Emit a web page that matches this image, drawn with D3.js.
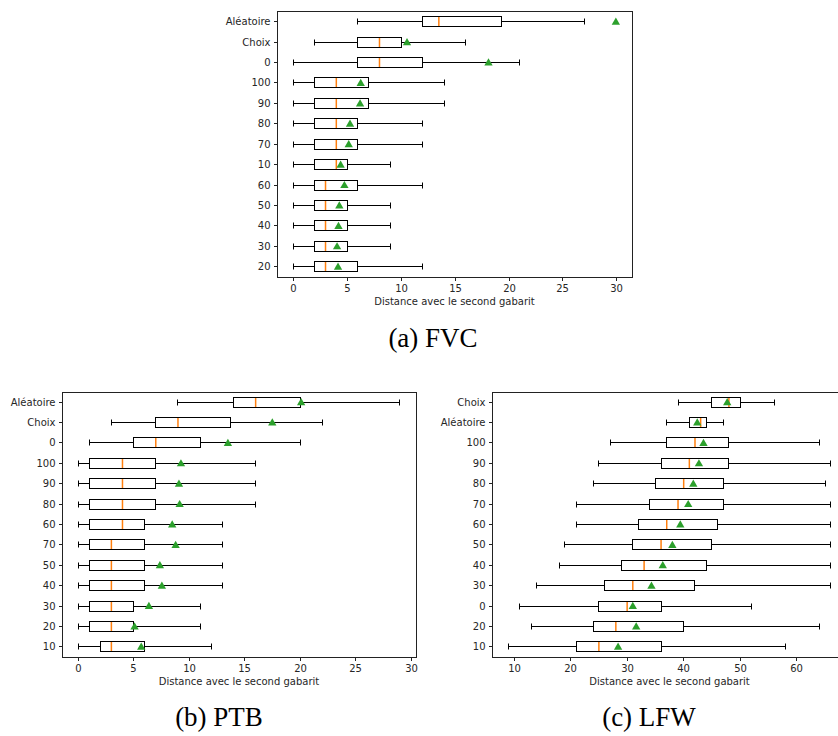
<!DOCTYPE html>
<html>
<head>
<meta charset="utf-8">
<script src="https://cdn.jsdelivr.net/npm/d3@7"></script>
<style>
  html, body { margin: 0; padding: 0; background: #fff; }
  svg { display: block; }
</style>
</head>
<body>
<svg id="chart" width="838" height="736"></svg>
<script>
// ---------------- DATA ----------------
// (a) FVC  (rows listed top to bottom)
const fvcLabels  = ["Aléatoire","Choix","0","100","90","80","70","10","60","50","40","30","20"];
const fvcWhisLo  = [6, 2, 0, 0, 0, 0, 0, 0, 0, 0, 0, 0, 0];
const fvcQ1      = [12, 6, 6, 2, 2, 2, 2, 2, 2, 2, 2, 2, 2];
const fvcMedian  = [13.5, 8, 8, 4, 4, 4, 4, 4, 3, 3, 3, 3, 3];
const fvcQ3      = [19.3, 10, 12, 7, 7, 6, 6, 5, 6, 5, 5, 5, 6];
const fvcWhisHi  = [27, 16, 21, 14, 14, 12, 12, 9, 12, 9, 9, 9, 12];
const fvcMean    = [29.9, 10.55, 18.1, 6.26, 6.2, 5.27, 5.15, 4.4, 4.75, 4.28, 4.2, 4.07, 4.16];
const fvcTicks   = [0, 5, 10, 15, 20, 25, 30];

// (b) PTB
const ptbLabels  = ["Aléatoire","Choix","0","100","90","80","60","70","50","40","30","20","10"];
const ptbWhisLo  = [9, 3, 1, 0, 0, 0, 0, 0, 0, 0, 0, 0, 0];
const ptbQ1      = [14, 7, 5, 1, 1, 1, 1, 1, 1, 1, 1, 1, 2];
const ptbMedian  = [16, 9, 7, 4, 4, 4, 4, 3, 3, 3, 3, 3, 3];
const ptbQ3      = [20, 13.75, 11, 7, 7, 7, 6, 6, 6, 6, 5, 5, 6];
const ptbWhisHi  = [29, 22, 20, 16, 16, 16, 13, 13, 13, 13, 11, 11, 12];
const ptbMean    = [20.1, 17.5, 13.5, 9.27, 9.09, 9.15, 8.48, 8.79, 7.37, 7.55, 6.38, 5.09, 5.69];
const ptbTicks   = [0, 5, 10, 15, 20, 25, 30];

// (c) LFW
const lfwLabels  = ["Choix","Aléatoire","100","90","80","70","60","50","40","30","0","20","10"];
const lfwWhisLo  = [39, 37, 27, 25, 24, 21, 21, 19, 18, 14, 11, 13, 9];
const lfwQ1      = [45, 41, 37, 36, 35, 34, 32, 31, 29, 26, 25, 24, 21];
const lfwMedian  = [48, 43, 42, 41, 40, 39, 37, 36, 33, 31, 30, 28, 25];
const lfwQ3      = [50, 44, 48, 48, 47, 47, 46, 45, 44, 42, 36, 40, 36];
const lfwWhisHi  = [56, 47, 64, 66, 65, 66, 66, 66, 66, 66, 52, 64, 58];
const lfwMean    = [47.7, 42.4, 43.5, 42.7, 41.7, 40.8, 39.4, 38.0, 36.3, 34.3, 31.0, 31.6, 28.4];
const lfwTicks   = [10, 20, 30, 40, 50, 60];

const xLabel = "Distance avec le second gabarit";
const captions = ["(a) FVC", "(b) PTB", "(c) LFW"];

// ---------------- DRAW ----------------
const svg = d3.select("#chart");
const TXT = "#262626";
const FONT = "'DejaVu Sans', sans-serif";
const snap = v => Math.round(v - 0.5) + 0.5;   // centre 1px strokes on pixel

function panel(opts) {
  const { left, top, width, height, labels, lo, q1, med, q3, hi, mean, ticks, caption, capX, capY } = opts;
  const n = labels.length;
  const all = lo.concat(hi, mean);
  const [mn, mx] = d3.extent(all);
  const pad = (mx - mn) * 0.05;
  const x = d3.scaleLinear().domain([mn - pad, mx + pad]).range([left, left + width]);
  const y = d3.scaleLinear().domain([0.5, n + 0.5]).range([top + height, top]);
  const pos = i => n - i;
  const unit = Math.abs(y(1) - y(0));
  const boxH = Math.round(unit * 0.5);
  const capH = Math.round(unit * 0.25);
  const X = v => snap(x(v));
  const Y = i => snap(y(pos(i)));

  const g = svg.append("g");
  const rows = d3.range(n);
  const rg = g.selectAll("g.row").data(rows).join("g").attr("class", "row");

  const ln = (sel, x1, x2, y1, y2, col, w) => sel.append("line")
    .attr("x1", x1).attr("x2", x2).attr("y1", y1).attr("y2", y2)
    .attr("stroke", col || "#000").attr("stroke-width", w || 1);

  ln(rg, i => X(lo[i]), i => X(q1[i]), Y, Y);
  ln(rg, i => X(q3[i]), i => X(hi[i]), Y, Y);
  ln(rg, i => X(lo[i]), i => X(lo[i]), i => Y(i) - capH / 2 - 0.5, i => Y(i) + capH / 2 + 0.5);
  ln(rg, i => X(hi[i]), i => X(hi[i]), i => Y(i) - capH / 2 - 0.5, i => Y(i) + capH / 2 + 0.5);
  rg.append("rect")
    .attr("x", i => X(q1[i])).attr("width", i => X(q3[i]) - X(q1[i]))
    .attr("y", i => Y(i) - boxH / 2).attr("height", boxH)
    .attr("fill", "none").attr("stroke", "#000").attr("stroke-width", 1);
  ln(rg, i => x(med[i]), i => x(med[i]), i => Y(i) - boxH / 2 + 0.5, i => Y(i) + boxH / 2 - 0.5, "#ff7f0e", 1.5);

  const tri = d3.symbol().type(d3.symbolTriangle).size(30);
  rg.append("path")
    .attr("d", tri())
    .attr("transform", i => `translate(${x(mean[i])},${y(pos(i)) + 0.6})`)
    .attr("fill", "#2ca02c");

  g.append("rect")
    .attr("x", snap(left)).attr("y", snap(top))
    .attr("width", Math.round(width)).attr("height", Math.round(height))
    .attr("fill", "none").attr("stroke", "#222").attr("stroke-width", 1);

  const xa = g.append("g").attr("transform", `translate(0,${snap(top + height)})`)
    .call(d3.axisBottom(x).tickValues(ticks).tickFormat(d3.format("d")).tickSizeOuter(0).tickSize(3.5).tickPadding(3.5));
  xa.select(".domain").remove();
  xa.selectAll(".tick").attr("transform", d => `translate(${snap(x(d))},0)`);
  xa.selectAll("line").attr("stroke", "#222").attr("stroke-width", 1);
  xa.selectAll("text").attr("fill", TXT).style("font-family", FONT).style("font-size", "10px");

  const ya = g.append("g").attr("transform", `translate(${snap(left)},0)`)
    .call(d3.axisLeft(y).tickValues(rows.map(pos)).tickFormat(p => labels[n - p]).tickSizeOuter(0).tickSize(3.5).tickPadding(3.5));
  ya.select(".domain").remove();
  ya.selectAll(".tick").attr("transform", d => `translate(0,${snap(y(d))})`);
  ya.selectAll("line").attr("stroke", "#222").attr("stroke-width", 1);
  ya.selectAll("text").attr("fill", TXT).style("font-family", FONT).style("font-size", "10px");

  g.append("text")
    .attr("x", left + width / 2).attr("y", top + height + 28)
    .attr("text-anchor", "middle").attr("fill", TXT)
    .style("font-family", FONT).style("font-size", "10px")
    .text(xLabel);

  svg.append("text")
    .attr("x", capX).attr("y", capY)
    .attr("text-anchor", "middle").attr("fill", "#000")
    .style("font-family", "'Liberation Serif', 'DejaVu Serif', serif")
    .style("font-size", "27px")
    .text(caption);
}

panel({ left: 277, top: 11.5, width: 355, height: 265.5,
  labels: fvcLabels, lo: fvcWhisLo, q1: fvcQ1, med: fvcMedian, q3: fvcQ3, hi: fvcWhisHi, mean: fvcMean,
  ticks: fvcTicks, caption: captions[0], capX: 433, capY: 347 });

panel({ left: 62, top: 392, width: 354, height: 265,
  labels: ptbLabels, lo: ptbWhisLo, q1: ptbQ1, med: ptbMedian, q3: ptbQ3, hi: ptbWhisHi, mean: ptbMean,
  ticks: ptbTicks, caption: captions[1], capX: 219, capY: 726 });

panel({ left: 492.3, top: 392, width: 354.5, height: 265,
  labels: lfwLabels, lo: lfwWhisLo, q1: lfwQ1, med: lfwMedian, q3: lfwQ3, hi: lfwWhisHi, mean: lfwMean,
  ticks: lfwTicks, caption: captions[2], capX: 649, capY: 726 });
</script>
</body>
</html>
